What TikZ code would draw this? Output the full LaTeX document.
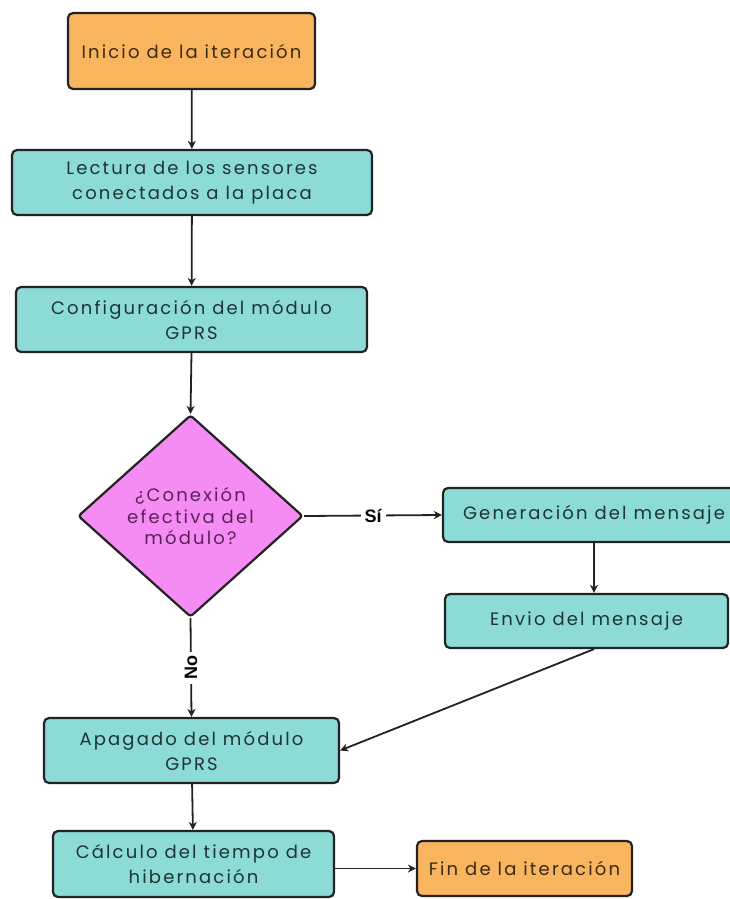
\documentclass[tikz,border=0pt]{standalone}
\usepackage{fontspec}
\setmainfont{Poppins}[LetterSpace=12]
\setsansfont{Liberation Sans}
\usetikzlibrary{shapes.geometric,arrows.meta}
\definecolor{boxorange}{HTML}{F9B45E}
\definecolor{boxteal}{HTML}{8CDBD6}
\definecolor{boxpink}{HTML}{F58CF3}
\definecolor{edgecol}{HTML}{222222}
\definecolor{txtorange}{HTML}{3A2A18}
\definecolor{txtteal}{HTML}{1E3434}
\definecolor{txtpink}{HTML}{5A225A}
\begin{document}
\begin{tikzpicture}[x=1pt,y=-1pt,
  basebox/.style={rectangle, rounded corners=5pt, draw=edgecol, line width=2.2pt,
    align=center, inner sep=2pt, font=\fontsize{18}{25}\selectfont},
  startbox/.style={basebox, fill=boxorange, text=txtorange},
  procbox/.style={basebox, fill=boxteal, text=txtteal},
  decbox/.style={diamond, rounded corners=3pt, draw=edgecol, line width=2.2pt,
    fill=boxpink, text=txtpink, align=center, inner sep=0pt,
    minimum width=225pt, minimum height=202pt, font=\fontsize{18}{21.5}\selectfont},
  flow/.style={draw=edgecol, line width=1.8pt, -{Stealth[length=8pt,width=8pt,inset=2.5pt]}},
  branch/.style={fill=white, text=black, inner sep=4pt, font=\sffamily\bfseries\fontsize{18}{20}\selectfont}
]
\useasboundingbox[fill=white] (0,0) rectangle (730,899);

% process boxes and the decision
\node[startbox, minimum width=247pt, minimum height=76pt] (inicio) at (191.5,51) {Inicio de la iteración};
\node[procbox, minimum width=360pt, minimum height=65pt] (lectura) at (192,182.5) {Lectura de los sensores\\conectados a la placa};
\node[procbox, minimum width=351pt, minimum height=65pt] (config) at (191.5,319.5) {Configuración del módulo\\GPRS};
\node[decbox] (dec) at (190.5,516) {¿Conexión\\efectiva del\\módulo?};
\node[procbox, minimum width=302pt, minimum height=54pt] (gen) at (594,515) {Generación del mensaje};
\node[procbox, minimum width=283pt, minimum height=54pt] (envio) at (586.5,621) {Envio del mensaje};
\node[procbox, minimum width=295pt, minimum height=65pt] (apagado) at (191.5,750.5) {Apagado del módulo\\GPRS};
\node[procbox, minimum width=281pt, minimum height=66pt] (calculo) at (193.5,864) {Cálculo del tiempo de\\hibernación};
\node[startbox, minimum width=215pt, minimum height=55pt] (fin) at (524.5,868.5) {Fin de la iteración};

% connectors
\draw[flow] (inicio) -- (lectura);
\draw[flow] (lectura) -- (config);
\draw[flow] (config.south) -- (dec.north);
\draw[flow] (dec.east) -- node[branch] {Sí} (gen.west);
\draw[flow] (dec.south) -- node[branch, rotate=90] {No} (apagado.north);
\draw[flow] (gen.south) -- (gen.south |- envio.north);
\draw[flow] (gen.south |- envio.south) -- (apagado.east);
\draw[flow] (apagado) -- (calculo);
\draw[flow] (fin.west -| calculo.east) -- (fin.west);
\end{tikzpicture}
\end{document}
